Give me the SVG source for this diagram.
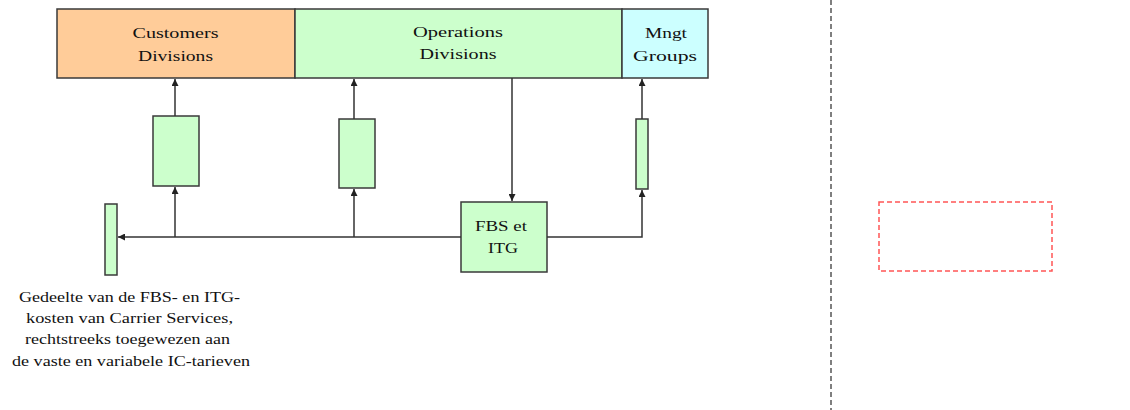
<svg xmlns="http://www.w3.org/2000/svg" width="1130" height="410" viewBox="0 0 1130 410">
  <defs>
    <marker id="arrow" viewBox="0 0 10 10" refX="10" refY="5" markerWidth="7" markerHeight="7" orient="auto-start-reverse" markerUnits="userSpaceOnUse">
      <path d="M0,0 L10,5 L0,10 z" fill="#222"/>
    </marker>
    <style>
      .box { stroke: #3a3a3a; stroke-width: 1.5; }
      .orange { fill: #ffcc99; }
      .green { fill: #ccffcc; }
      .cyan { fill: #ccffff; }
      .lbl { font-family: "Liberation Serif", "Times New Roman", serif; font-size: 15px; fill: #111; text-anchor: middle; }
      .note { font-family: "Liberation Serif", "Times New Roman", serif; font-size: 14px; fill: #111; text-anchor: middle; }
      .conn { fill: none; stroke: #333; stroke-width: 1.5; }
    </style>
  </defs>
  <rect width="1130" height="410" fill="#ffffff"/>

  <!-- top row of divisions -->
  <g id="customers">
    <rect class="box orange" x="57" y="9" width="238" height="69"/>
    <text class="lbl" x="175.5" y="38" textLength="86" lengthAdjust="spacingAndGlyphs">Customers</text>
    <text class="lbl" x="175.5" y="61" textLength="75" lengthAdjust="spacingAndGlyphs">Divisions</text>
  </g>
  <g id="operations">
    <rect class="box green" x="295" y="9" width="327" height="69"/>
    <text class="lbl" x="458" y="37" textLength="90" lengthAdjust="spacingAndGlyphs">Operations</text>
    <text class="lbl" x="458" y="59" textLength="77" lengthAdjust="spacingAndGlyphs">Divisions</text>
  </g>
  <g id="mngt">
    <rect class="box cyan" x="622" y="9" width="86" height="69"/>
    <text class="lbl" x="666" y="38" textLength="42" lengthAdjust="spacingAndGlyphs">Mngt</text>
    <text class="lbl" x="665" y="61" textLength="64" lengthAdjust="spacingAndGlyphs">Groups</text>
  </g>

  <!-- allocation blocks -->
  <g id="alloc-customers">
    <rect class="box green" x="153" y="116" width="46" height="70"/>
  </g>
  <g id="alloc-operations">
    <rect class="box green" x="339" y="119" width="36" height="69"/>
  </g>
  <g id="alloc-mngt">
    <rect class="box green" x="636" y="119" width="12" height="70"/>
  </g>
  <g id="alloc-carrier">
    <rect class="box green" x="105" y="204" width="12" height="71"/>
  </g>
  <g id="fbs-itg">
    <rect class="box green" x="461" y="202" width="86" height="70"/>
    <text class="lbl" x="501" y="231" textLength="52" lengthAdjust="spacingAndGlyphs">FBS et</text>
    <text class="lbl" x="503" y="253" textLength="30" lengthAdjust="spacingAndGlyphs">ITG</text>
  </g>

  <!-- connectors -->
  <g id="connectors">
    <line class="conn" x1="175" y1="116" x2="175" y2="79" marker-end="url(#arrow)"/>
    <line class="conn" x1="354" y1="119" x2="354" y2="79" marker-end="url(#arrow)"/>
    <line class="conn" x1="642" y1="119" x2="642" y2="79" marker-end="url(#arrow)"/>
    <line class="conn" x1="512" y1="78" x2="512" y2="201" marker-end="url(#arrow)"/>
    <line class="conn" x1="461" y1="237" x2="118" y2="237" marker-end="url(#arrow)"/>
    <line class="conn" x1="175" y1="237" x2="175" y2="187" marker-end="url(#arrow)"/>
    <line class="conn" x1="354" y1="237" x2="354" y2="189" marker-end="url(#arrow)"/>
    <polyline class="conn" points="547,237 642,237 642,190" marker-end="url(#arrow)"/>
  </g>

  <!-- note under the carrier block -->
  <g id="note">
    <text class="note" x="129.5" y="302" textLength="221" lengthAdjust="spacingAndGlyphs">Gedeelte van de FBS- en ITG-</text>
    <text class="note" x="129.5" y="323" textLength="207" lengthAdjust="spacingAndGlyphs">kosten van Carrier Services,</text>
    <text class="note" x="127.5" y="344" textLength="205" lengthAdjust="spacingAndGlyphs">rechtstreeks toegewezen aan</text>
    <text class="note" x="131" y="366" textLength="238" lengthAdjust="spacingAndGlyphs">de vaste en variabele IC-tarieven</text>
  </g>

  <!-- page separator and empty placeholder -->
  <line x1="831" y1="0" x2="831" y2="410" stroke="#555" stroke-width="1.5" stroke-dasharray="5,3"/>
  <rect x="879" y="202" width="173" height="69" fill="none" stroke="#ff5555" stroke-width="1.5" stroke-dasharray="5,3"/>
</svg>
